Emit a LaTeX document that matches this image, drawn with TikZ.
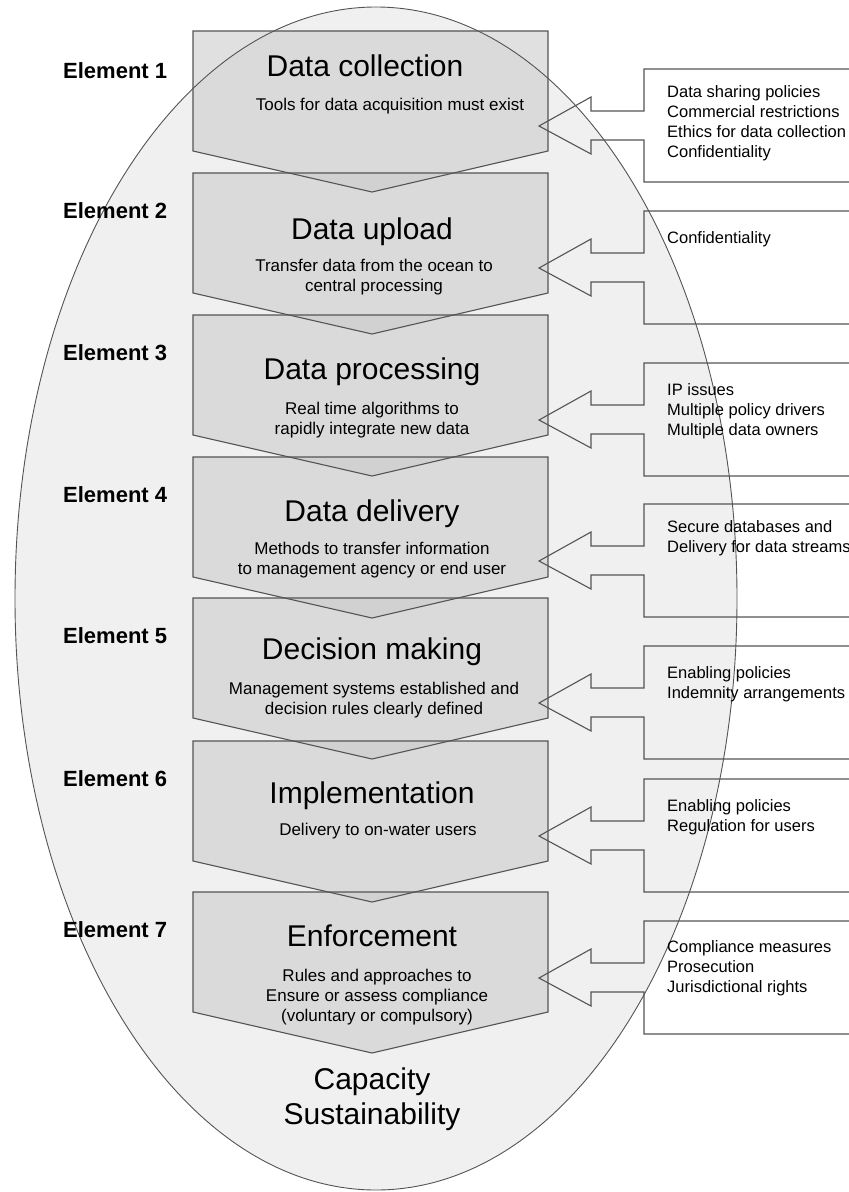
\documentclass[tikz,border=0pt]{standalone}
\usepackage{fontspec}
\setmainfont{Liberation Sans}
\definecolor{ovalfill}{gray}{0.94}
\definecolor{stagefill}{gray}{0.80}
\definecolor{edgegray}{gray}{0.33}
\tikzset{
  stage/.style={fill=stagefill, fill opacity=0.6},
  outline/.style={draw=edgegray, line width=1.1pt, line join=miter},
  elabel/.style={font=\fontsize{22}{26}\selectfont\bfseries, anchor=base west, inner sep=0pt},
  stagetitle/.style={font=\fontsize{30}{35}\selectfont, anchor=base, inner sep=0pt},
  stagetext/.style={font=\fontsize{17}{20}\selectfont, align=center, anchor=base, inner sep=0pt},
  issues/.style={font=\fontsize{16.5}{20}\selectfont, align=left, anchor=base west, inner sep=0pt}
}
\begin{document}
\begin{tikzpicture}[x=1pt,y=-1pt]
  \useasboundingbox (0,0) rectangle (849,1192);
  % oval background
  \fill[ovalfill] (376,598.5) ellipse [x radius=361, y radius=591.5];

  % stage boxes (chevrons)
  \foreach \t in {31,173,315,457,598,741,892}
    \fill[stage] (193,\t) -- (548,\t) -- (548,\t+120) -- (372,\t+161) -- (193,\t+120) -- cycle;
  \foreach \t in {31,173,315,457,598,741,892}
    \draw[outline] (193,\t) -- (548,\t) -- (548,\t+120) -- (372,\t+161) -- (193,\t+120) -- cycle;

  \draw[draw=edgegray, line width=0.9pt] (376,598.5) ellipse [x radius=361, y radius=591.5];

  % issue boxes with arrows
  \foreach \r in {69,211,363,504,646,779,921} {
    \coordinate (P) at (539,\r+57);
    \draw[outline] (860,\r) -- (644,\r) -- (644,\r+42) -- (591,\r+42) -- (591,\r+28) -- (P)
      -- (591,\r+85) -- (591,\r+71) -- (644,\r+71) -- (644,\r+113) -- (860,\r+113);
  }

  % element labels
  \node[elabel] (E1) at (63,78) {Element 1};
  \node[elabel] (E2) at (63,218) {Element 2};
  \node[elabel] (E3) at (63,360) {Element 3};
  \node[elabel] (E4) at (63,502) {Element 4};
  \node[elabel] (E5) at (63,643) {Element 5};
  \node[elabel] (E6) at (63,786) {Element 6};
  \node[elabel] (E7) at (63,937) {Element 7};

  % stage titles
  \node[stagetitle] (T1) at (365,76) {Data collection};
  \node[stagetitle] (T2) at (372,239) {Data upload};
  \node[stagetitle] (T3) at (372,379) {Data processing};
  \node[stagetitle] (T4) at (372,521) {Data delivery};
  \node[stagetitle] (T5) at (372,659) {Decision making};
  \node[stagetitle] (T6) at (372,803) {Implementation};
  \node[stagetitle] (T7) at (372,946) {Enforcement};

  % stage descriptions (base = last line)
  \node[stagetext] (S1) at (390,110) {Tools for data acquisition must exist};
  \node[stagetext] (S2) at (374,291) {Transfer data from the ocean to\\central processing};
  \node[stagetext] (S3) at (372,434) {Real time algorithms to\\rapidly integrate new data};
  \node[stagetext] (S4) at (372,574) {Methods to transfer information\\to management agency or end user};
  \node[stagetext] (S5) at (374,714) {Management systems established and\\decision rules clearly defined};
  \node[stagetext] (S6) at (378,835) {Delivery to on-water users};
  \node[stagetext] (S7) at (377,1021) {Rules and approaches to\\Ensure or assess compliance\\(voluntary or compulsory)};

  % issues
  \node[issues] (R1) at (667,157) {Data sharing policies\\Commercial restrictions\\Ethics for data collection\\Confidentiality};
  \node[issues] (R2) at (667,243) {Confidentiality};
  \node[issues] (R3) at (667,435) {IP issues\\Multiple policy drivers\\Multiple data owners};
  \node[issues] (R4) at (667,552) {Secure databases and\\Delivery for data streams};
  \node[issues] (R5) at (667,698) {Enabling policies\\Indemnity arrangements};
  \node[issues] (R6) at (667,831) {Enabling policies\\Regulation for users};
  \node[issues] (R7) at (667,992) {Compliance measures\\Prosecution\\Jurisdictional rights};

  \node[stagetitle, align=center] (C) at (372,1124) {Capacity\\Sustainability};
\end{tikzpicture}
\end{document}
